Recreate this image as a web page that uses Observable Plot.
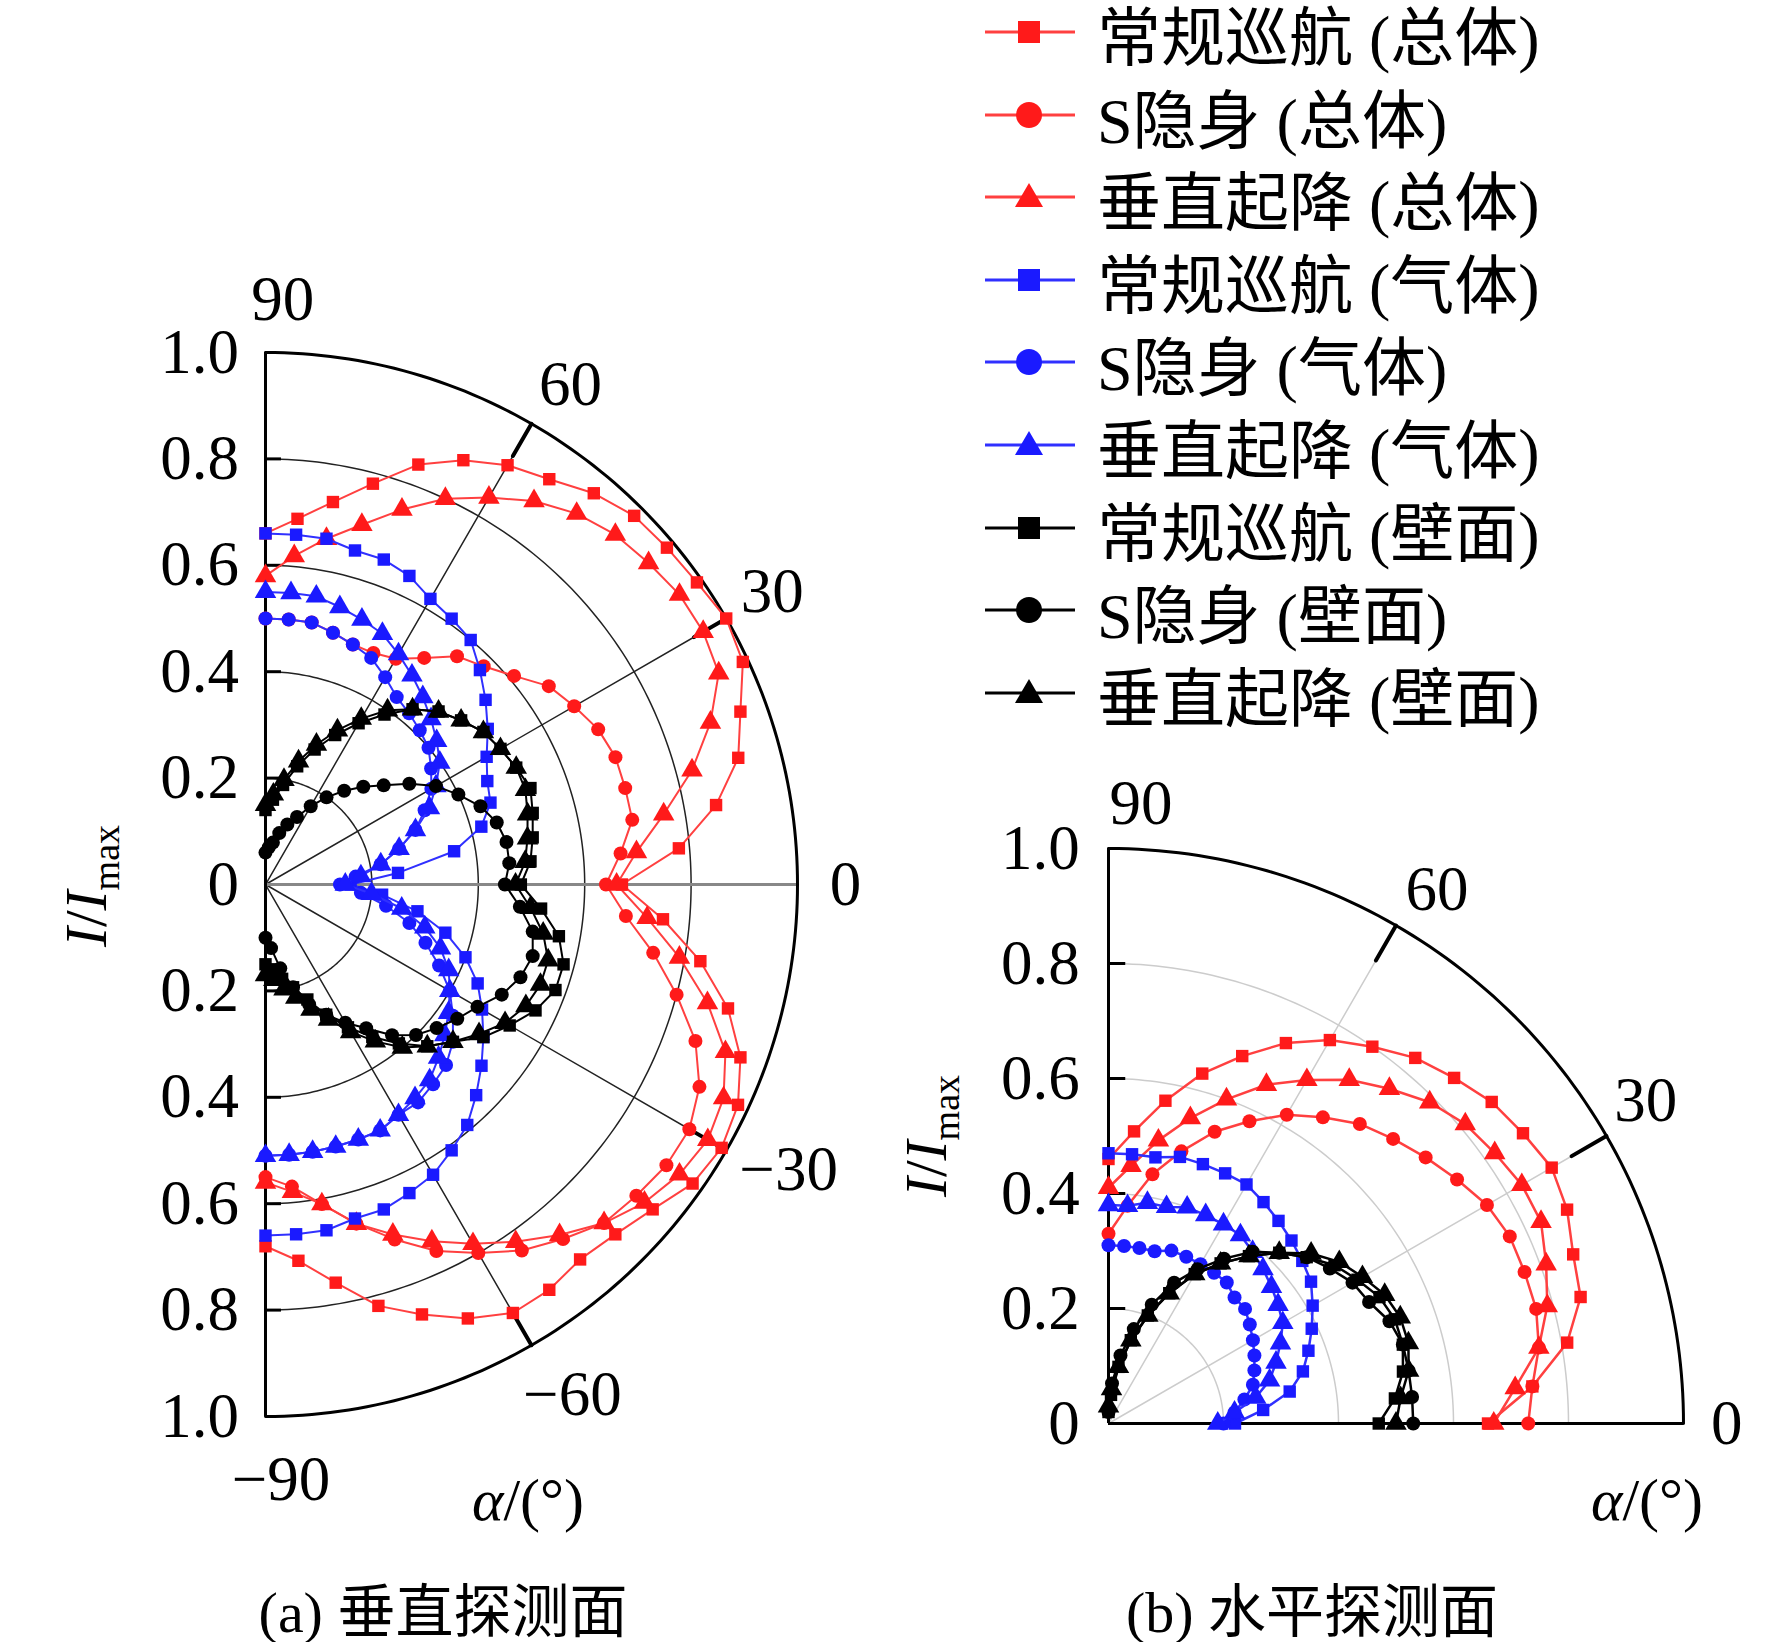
<!DOCTYPE html>
<html><head><meta charset="utf-8">
<script src="https://cdn.jsdelivr.net/npm/d3@7"></script>
<script src="https://cdn.jsdelivr.net/npm/@observablehq/plot@0.6"></script>
<style>
body{margin:0;width:1772px;height:1642px;position:relative;background:#fff;font-family:"Liberation Serif","Noto Sans CJK SC",serif;color:#000}
#a,#b{position:absolute;top:0}#a{left:0}#b{left:880px}
#legend{position:absolute;left:985px;top:0}
.row{position:absolute;left:0;height:80px;display:flex;align-items:center;white-space:nowrap;font-size:64px}
.row svg{margin-right:22px}
.t{position:absolute;transform:translate(-50%,-50%);white-space:nowrap;font-size:60px}
.cap{font-size:58px}
</style></head><body>
<div id="a"></div><div id="b"></div><div id="legend"></div>
<div class="t cap" style="left:443px;top:1607px">(a) 垂直探测面</div>
<div class="t cap" style="left:1312px;top:1607px">(b) 水平探测面</div>
<div class="t" style="left:528px;top:1500px"><i>α</i>/(°)</div>
<div class="t" style="left:1647px;top:1500px"><i>α</i>/(°)</div>
<div class="t" style="left:90px;top:886px;transform:translate(-50%,-50%) rotate(-90deg)"><i>I</i>/<i>I</i><sub style="font-size:38px">max</sub></div>
<div class="t" style="left:930px;top:1136px;transform:translate(-50%,-50%) rotate(-90deg)"><i>I</i>/<i>I</i><sub style="font-size:38px">max</sub></div>
<script>
// ---- angles (degrees) ----
const anglesA = d3.range(-90, 91, 5);
const anglesB = d3.range(0, 91, 5);
// ---- panel (a) 垂直探测面: I/Imax per angle (-90..90 step 5) ----
const aTotalCruise = [0.68,0.71,0.76,0.82,0.86,0.90,0.93,0.93,0.92,0.93,0.95,0.98,0.99,0.98,0.95,0.90,0.83,0.75,0.67,0.78,0.86,0.92,0.95,0.99,1.0,0.99,0.985,0.98,0.96,0.93,0.91,0.88,0.84,0.78,0.73,0.69,0.66];
const aTotalStealth = [0.55,0.57,0.61,0.66,0.71,0.76,0.80,0.84,0.87,0.90,0.91,0.92,0.92,0.90,0.86,0.80,0.74,0.68,0.64,0.67,0.70,0.70,0.70,0.69,0.67,0.65,0.61,0.58,0.56,0.52,0.49,0.48,0.48,0.49,0.50,0.50,0.50];
const aTotalVtol = [0.56,0.58,0.61,0.66,0.70,0.74,0.78,0.82,0.86,0.90,0.93,0.95,0.96,0.95,0.92,0.86,0.79,0.72,0.66,0.70,0.76,0.83,0.89,0.94,0.95,0.95,0.94,0.93,0.91,0.88,0.84,0.80,0.75,0.70,0.66,0.62,0.58];
const aGasCruise = [0.66,0.66,0.66,0.65,0.65,0.64,0.63,0.61,0.59,0.56,0.53,0.50,0.47,0.44,0.40,0.35,0.29,0.22,0.16,0.25,0.36,0.42,0.45,0.46,0.48,0.51,0.54,0.57,0.60,0.61,0.62,0.64,0.65,0.65,0.66,0.66,0.66];
const aGasStealth = [0.51,0.51,0.51,0.51,0.51,0.51,0.50,0.50,0.49,0.48,0.46,0.43,0.40,0.36,0.32,0.28,0.23,0.18,0.14,0.17,0.22,0.26,0.30,0.33,0.36,0.38,0.40,0.41,0.42,0.43,0.45,0.47,0.48,0.49,0.50,0.50,0.50];
const aGasVtol = [0.51,0.51,0.51,0.51,0.51,0.51,0.50,0.49,0.48,0.46,0.44,0.42,0.40,0.38,0.35,0.31,0.26,0.20,0.15,0.18,0.22,0.26,0.30,0.34,0.37,0.40,0.42,0.44,0.46,0.48,0.50,0.52,0.53,0.54,0.55,0.55,0.55];
const aWallCruise = [0.15,0.16,0.18,0.20,0.23,0.27,0.31,0.35,0.39,0.43,0.46,0.50,0.53,0.56,0.58,0.58,0.56,0.52,0.48,0.50,0.51,0.52,0.53,0.52,0.51,0.50,0.48,0.46,0.43,0.39,0.35,0.31,0.27,0.23,0.19,0.16,0.14];
const aWallStealth = [0.10,0.12,0.16,0.20,0.24,0.27,0.30,0.33,0.37,0.40,0.42,0.44,0.46,0.49,0.51,0.52,0.51,0.48,0.45,0.46,0.46,0.45,0.43,0.40,0.37,0.33,0.29,0.26,0.23,0.20,0.17,0.14,0.12,0.10,0.08,0.07,0.06];
const aWallVtol = [0.17,0.18,0.20,0.22,0.25,0.28,0.32,0.36,0.40,0.43,0.46,0.49,0.52,0.54,0.55,0.55,0.53,0.50,0.47,0.49,0.50,0.51,0.52,0.52,0.51,0.50,0.48,0.46,0.43,0.40,0.36,0.32,0.28,0.24,0.20,0.17,0.15];
// ---- panel (b) 水平探测面: I/Imax per angle (0..90 step 5) ----
const bTotalCruise = [0.66,0.74,0.81,0.85,0.86,0.88,0.89,0.88,0.87,0.85,0.83,0.80,0.77,0.73,0.68,0.63,0.57,0.51,0.46];
const bTotalStealth = [0.73,0.74,0.76,0.77,0.77,0.77,0.76,0.74,0.72,0.70,0.68,0.65,0.62,0.58,0.54,0.49,0.44,0.38,0.33];
const bTotalVtol = [0.67,0.71,0.76,0.79,0.81,0.83,0.83,0.82,0.81,0.79,0.76,0.73,0.69,0.65,0.60,0.55,0.50,0.45,0.41];
const bGasCruise = [0.22,0.27,0.32,0.35,0.37,0.39,0.41,0.43,0.44,0.45,0.46,0.47,0.48,0.48,0.48,0.48,0.47,0.47,0.47];
const bGasStealth = [0.20,0.22,0.24,0.26,0.27,0.28,0.29,0.30,0.31,0.31,0.32,0.32,0.32,0.32,0.32,0.31,0.31,0.31,0.31];
const bGasVtol = [0.19,0.22,0.26,0.29,0.31,0.33,0.35,0.36,0.37,0.38,0.39,0.40,0.40,0.40,0.40,0.39,0.39,0.38,0.38];
const bWallCruise = [0.47,0.50,0.52,0.53,0.53,0.52,0.50,0.48,0.45,0.42,0.38,0.34,0.30,0.25,0.20,0.15,0.10,0.05,0.02];
const bWallStealth = [0.53,0.53,0.53,0.53,0.52,0.50,0.49,0.47,0.45,0.42,0.39,0.35,0.31,0.27,0.22,0.17,0.12,0.07,0.02];
const bWallVtol = [0.50,0.51,0.53,0.54,0.54,0.53,0.51,0.49,0.46,0.42,0.38,0.34,0.30,0.25,0.20,0.15,0.10,0.06,0.03];
// ---- legend ----
const legendNames = ["常规巡航 (总体)","S隐身 (总体)","垂直起降 (总体)","常规巡航 (气体)","S隐身 (气体)","垂直起降 (气体)","常规巡航 (壁面)","S隐身 (壁面)","垂直起降 (壁面)"];
const colors = ["#ff1a1a","#ff1a1a","#ff1a1a","#1a1aff","#1a1aff","#1a1aff","#000","#000","#000"];
const lineColors = ["#ff4040","#ff4040","#ff4040","#3030ff","#3030ff","#3030ff","#000","#000","#000"];
const symbols = ["square","circle","triangle","square","circle","triangle","square","circle","triangle"];
const seriesA = [aTotalCruise,aTotalStealth,aTotalVtol,aGasCruise,aGasStealth,aGasVtol,aWallCruise,aWallStealth,aWallVtol];
const seriesB = [bTotalCruise,bTotalStealth,bTotalVtol,bGasCruise,bGasStealth,bGasVtol,bWallCruise,bWallStealth,bWallVtol];
const rTicks = [0.2,0.4,0.6,0.8];

const rad = a => a*Math.PI/180;
const P = (r,a) => ({x:r*Math.cos(rad(a)), y:r*Math.sin(rad(a))});

function panel({width,height,cx,cy,R,amin,amax,angles,series,gridColor,gridW,radials,zeroLine,rLabels,aLabels,lineW}){
  const arc = (r,k) => d3.range(amin,amax+0.5,1).map(a=>({...P(r,a),k}));
  const grid = rTicks.flatMap(r=>arc(r,r));
  const radialSeg = radials.flatMap(a=>[{...P(0,a),k:a},{...P(1,a),k:a}]);
  const tickSeg = radials.flatMap(a=>[{...P(0.93,a),k:a},{...P(1,a),k:a}]);
  const data = series.flatMap((s,i)=>s.map((r,j)=>({...P(r,angles[j]),i})));
  const marks = [
    Plot.line(grid,{x:"x",y:"y",z:"k",stroke:gridColor,strokeWidth:gridW}),
    Plot.line(radialSeg,{x:"x",y:"y",z:"k",stroke:gridColor,strokeWidth:gridW}),
  ];
  if(zeroLine) marks.push(Plot.line([P(0,0),P(1,0)],{x:"x",y:"y",stroke:"#888",strokeWidth:3}));
  marks.push(
    Plot.line(tickSeg,{x:"x",y:"y",z:"k",stroke:"#000",strokeWidth:4}),
    Plot.line(arc(1,1),{x:"x",y:"y",stroke:"#000",strokeWidth:3}),
    Plot.ruleX([0],{y1:Math.sin(rad(amin)),y2:1,stroke:"#000",strokeWidth:3}),
    Plot.ruleY(rLabels.filter(d=>d.v!==0&&Math.abs(d.v)!==1),{y:"v",x1:0,x2:0.03,stroke:"#000",strokeWidth:3}),
    Plot.text(rLabels,{x:-0.05,y:"v",text:"t",textAnchor:"end",fontSize:63,fontFamily:"Liberation Serif"}),
    Plot.text(aLabels,{x:d=>P(d.r,d.a).x,y:d=>P(d.r,d.a).y,text:"t",fontSize:63,fontFamily:"Liberation Serif"})
  );
  if(amin===0) marks.push(Plot.ruleY([0],{x1:0,x2:1,stroke:"#000",strokeWidth:3}));
  series.forEach((s,i)=>{
    const d = data.filter(p=>p.i===i);
    marks.push(Plot.line(d,{x:"x",y:"y",stroke:lineColors[i],strokeWidth:lineW}));
    marks.push(Plot.dot(d,{x:"x",y:"y",fill:colors[i],symbol:()=>symbols[i],r:symbols[i]==="triangle"?8:7}));
  });
  return Plot.plot({width,height,margin:0,
    x:{type:"linear",domain:[-cx/R,(width-cx)/R],range:[0,width],axis:null},
    y:{type:"linear",domain:[-(height-cy)/R,cy/R],range:[height,0],axis:null},
    symbol:{type:"identity"},
    marks});
}
const fmt = v => v===0?"0":Math.abs(v).toFixed(1);
const minus = a => a<0?"\u2212"+(-a):String(a);

document.getElementById("a").append(panel({width:880,height:1642,cx:265,cy:884,R:532,amin:-90,amax:90,angles:anglesA,series:seriesA,
  gridColor:"#222",gridW:1.5,radials:[60,30,-30,-60],zeroLine:true,lineW:2,
  rLabels:[1,0.8,0.6,0.4,0.2,0,-0.2,-0.4,-0.6,-0.8,-1].map(v=>({v,t:fmt(v)})),
  aLabels:[{a:88.3,r:1.1,t:"90"},{a:58.6,r:1.1,t:"60"},{a:30,r:1.1,t:"30"},{a:0,r:1.09,t:"0"},{a:-28.6,r:1.12,t:minus(-30)},{a:-59,r:1.12,t:minus(-60)},{a:-88.5,r:1.12,t:minus(-90)}]
}));
document.getElementById("b").append(panel({width:892,height:1642,cx:228,cy:1423,R:575,amin:0,amax:90,angles:anglesB,series:seriesB,
  gridColor:"#ccc",gridW:1.5,radials:[30,60],zeroLine:false,lineW:2.5,
  rLabels:[1,0.8,0.6,0.4,0.2,0].map(v=>({v,t:fmt(v)})),
  aLabels:[{a:87,r:1.08,t:"90"},{a:58.4,r:1.09,t:"60"},{a:31,r:1.09,t:"30"},{a:0,r:1.075,t:"0"}]
}));
// legend
const leg = document.getElementById("legend");
legendNames.forEach((n,i)=>{
  const row = document.createElement("div");
  row.className="row"; row.style.top=(i*82.6-8)+"px";
  const s = symbols[i]==="square"?`<rect x="33" y="10" width="22" height="22" fill="${colors[i]}"/>`
    : symbols[i]==="circle"?`<circle cx="44" cy="21" r="13" fill="${colors[i]}"/>`
    : `<path d="M44,7 L58,31 L30,31Z" fill="${colors[i]}"/>`;
  row.innerHTML = `<svg width="90" height="42"><line x1="0" x2="90" y1="21" y2="21" stroke="${lineColors[i]}" stroke-width="3"/>${s}</svg><span>${n}</span>`;
  leg.append(row);
});
</script>
</body></html>
